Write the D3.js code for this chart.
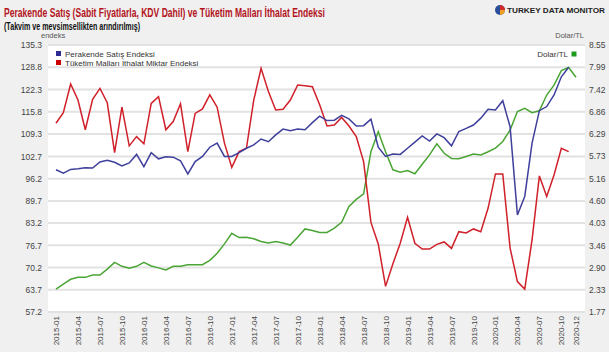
<!DOCTYPE html>
<html><head><meta charset="utf-8">
<script src="https://cdn.jsdelivr.net/npm/d3@7"></script>
<style>
html,body{margin:0;padding:0;background:#f0f0f0;}
svg{display:block;font-family:"Liberation Sans",Arial,sans-serif;}
</style></head>
<body><svg id="c" width="609" height="352"></svg>
<script>
// ---- data ----
const startYear = 2015, nMonths = 72;
const months = [];
for (let i = 0; i < nMonths; i++) {
  const y = startYear + Math.floor(i / 12), m = (i % 12) + 1;
  months.push(y + "-" + (m < 10 ? "0" + m : m));
}
const tickLabels = ["2015-01","2015-04","2015-07","2015-10","2016-01","2016-04","2016-07","2016-10",
  "2017-01","2017-04","2017-07","2017-10","2018-01","2018-04","2018-07","2018-10",
  "2019-01","2019-04","2019-07","2019-10","2020-01","2020-04","2020-07","2020-10","2020-12"];
const leftTicks = [57.2,63.7,70.2,76.7,83.2,89.7,96.2,102.7,109.3,115.8,122.3,128.8,135.3];
const rightTicks = ["1.77","2.33","2.90","3.46","4.03","4.60","5.16","5.73","6.29","6.86","7.42","7.99","8.55"];

const perakende = [98.8,97.8,98.9,99.1,99.4,99.3,101.1,101.6,101.0,99.9,100.8,103.3,
  99.7,103.8,102.0,102.6,102.5,101.4,97.6,101.2,102.7,105.4,106.6,102.7,
  102.7,103.8,105.1,106.1,107.8,107.0,109.0,110.7,110.2,110.7,110.5,112.6,
  114.5,113.2,113.3,114.7,113.7,111.6,111.7,113.6,105.4,102.7,103.4,103.3,
  105.1,106.9,108.7,107.2,109.3,108.2,105.8,110.0,110.9,111.9,113.9,116.5,
  116.3,119.0,111.4,85.6,91.0,106.6,116.1,117.3,120.7,126.0,128.8];
const ithalat = [112.4,115.5,123.9,119.2,110.5,119.4,122.6,118.4,103.8,117.1,105.8,108.5,
  106.4,118.2,120.2,110.5,112.9,118.1,104.1,115.3,116.6,120.7,117.1,106.6,
  99.5,104.1,105.1,119.2,128.5,121.7,116.3,116.5,119.2,123.6,123.4,123.1,
  117.8,111.6,111.9,114.1,111.6,108.5,101.2,83.4,77.1,64.7,71.3,77.3,
  84.9,77.3,75.6,75.6,77.0,77.7,75.8,80.7,80.3,81.5,80.7,87.6,
  97.6,97.6,75.9,66.1,63.9,78.3,97.0,91.0,97.3,105.1,104.1];
const dolarTL = [2.35,2.48,2.60,2.65,2.65,2.71,2.71,2.86,3.03,2.93,2.88,2.93,
  3.03,2.94,2.89,2.84,2.93,2.93,2.97,2.97,2.97,3.08,3.26,3.50,
  3.77,3.66,3.67,3.63,3.56,3.52,3.56,3.52,3.47,3.67,3.88,3.84,
  3.79,3.79,3.90,4.05,4.45,4.63,4.77,5.84,6.35,5.84,5.38,5.32,
  5.36,5.28,5.52,5.76,6.04,5.80,5.67,5.66,5.72,5.78,5.76,5.84,
  5.93,6.10,6.39,6.86,6.94,6.83,6.88,7.28,7.53,7.90,7.98,7.73];

const seriesNames = ["Perakende Satış Endeksi","Tüketim Malları İthalat Miktar Endeksi","Dolar/TL"];
const colors = ["#3f3f9c","#d0202a","#4aa534"];
const legendColors = ["#2c2c94","#cc0000","#1f9a1f"];

// ---- drawing ----
const svg = d3.select("#c");
const P = {left:48, right:585, top:45, bottom:312};
svg.append("rect").attr("x",P.left).attr("y",P.top).attr("width",P.right-P.left).attr("height",P.bottom-P.top).attr("fill","#fff");

const x = d3.scaleLinear().domain([0, nMonths-1]).range([56, 576]);
const yL = d3.scaleLinear().domain([57.2,135.3]).range([P.bottom,P.top]);
const yR = d3.scaleLinear().domain([1.77,8.55]).range([P.bottom,P.top]);

// gridlines
svg.append("g").selectAll("line").data(leftTicks).join("line")
  .attr("x1",P.left).attr("x2",P.right)
  .attr("y1",d=>yL(d)).attr("y2",d=>yL(d))
  .attr("stroke","#e2e2e2").attr("stroke-width",2);

// left axis
const axL = d3.axisLeft(yL).tickValues(leftTicks).tickFormat(d3.format(".1f")).tickSize(0).tickPadding(5);
const gL = svg.append("g").attr("transform",`translate(${P.left-1},0)`).call(axL);
gL.select(".domain").remove();
gL.selectAll("text").attr("font-size",8.5).attr("fill","#444").attr("font-family","Liberation Sans, Arial");

// right axis
const axR = d3.axisRight(yR).tickValues(rightTicks.map(Number)).tickFormat((d,i)=>rightTicks[i]).tickSize(0).tickPadding(4);
const gR = svg.append("g").attr("transform",`translate(${P.right},0)`).call(axR);
gR.select(".domain").remove();
gR.selectAll("text").attr("font-size",8.5).attr("fill","#444").attr("font-family","Liberation Sans, Arial");

// bottom axis
const tickIdx = tickLabels.map(t=>months.indexOf(t));
const axB = d3.axisBottom(x).tickValues(tickIdx).tickFormat(i=>months[i]).tickSize(0).tickPadding(0);
const gB = svg.append("g").attr("transform",`translate(0,${P.bottom})`).call(axB);
gB.select(".domain").remove();
gB.selectAll("text").attr("font-size",8).attr("fill","#444")
  .attr("text-anchor","end").attr("dy","0.32em")
  .attr("transform","translate(0,4) rotate(-90)").attr("y",0).attr("x",0);

// lines
const lineL = d3.line().defined(d=>d!=null).x((d,i)=>x(i)).y(d=>yL(d));
const lineR = d3.line().x((d,i)=>x(i)).y(d=>yR(d));
svg.append("path").datum(dolarTL).attr("d",lineR).attr("fill","none").attr("stroke",colors[2]).attr("stroke-width",1.5);
svg.append("path").datum(ithalat).attr("d",lineL).attr("fill","none").attr("stroke",colors[1]).attr("stroke-width",1.5);
svg.append("path").datum(perakende).attr("d",lineL).attr("fill","none").attr("stroke",colors[0]).attr("stroke-width",1.5);

// legends
const lg = svg.append("g");
[0,1].forEach(k=>{
  lg.append("rect").attr("x",56).attr("y",51+k*9).attr("width",5).attr("height",5).attr("fill",legendColors[k]);
  lg.append("text").attr("x",65).attr("y",56.5+k*9).attr("font-size",8).attr("fill","#333").text(seriesNames[k]);
});
lg.append("text").attr("x",568).attr("y",57).attr("text-anchor","end").attr("font-size",8).attr("fill","#333").text(seriesNames[2]);
lg.append("rect").attr("x",571.5).attr("y",51.5).attr("width",5).attr("height",5).attr("fill",legendColors[2]);

// titles
svg.append("text").attr("x",4).attr("y",17).attr("font-size",12.5).attr("font-weight","bold").attr("fill","#b3141c")
  .attr("textLength",321).attr("lengthAdjust","spacingAndGlyphs")
  .text("Perakende Satış (Sabit Fiyatlarla, KDV Dahil) ve Tüketim Malları İthalat Endeksi");
svg.append("text").attr("x",4).attr("y",30).attr("font-size",10).attr("font-weight","bold").attr("fill","#111")
  .attr("textLength",136).attr("lengthAdjust","spacingAndGlyphs")
  .text("(Takvim ve mevsimsellikten arındırılmış)");
svg.append("text").attr("x",41).attr("y",38).attr("font-size",7.5).attr("fill","#555").text("endeks");
svg.append("text").attr("x",584).attr("y",38).attr("text-anchor","end").attr("font-size",7.5).attr("fill","#555").text("Dolar/TL");

// logo
const logo = svg.append("g");
logo.append("circle").attr("cx",500).attr("cy",10).attr("r",5).attr("fill","#2a4f9a");
logo.append("path").attr("d","M500,5 A5,5 0 0,1 505,10 L500,10 Z").attr("fill","#d32a2a");
logo.append("path").attr("d","M500,10 L505,10 A5,5 0 0,1 500,15 Z").attr("fill","#f0a020");
logo.append("text").attr("x",507).attr("y",13).attr("font-size",7.5).attr("font-weight","bold").attr("fill","#222")
  .attr("textLength",98).attr("lengthAdjust","spacingAndGlyphs").text("TURKEY DATA MONITOR");
</script></body></html>
